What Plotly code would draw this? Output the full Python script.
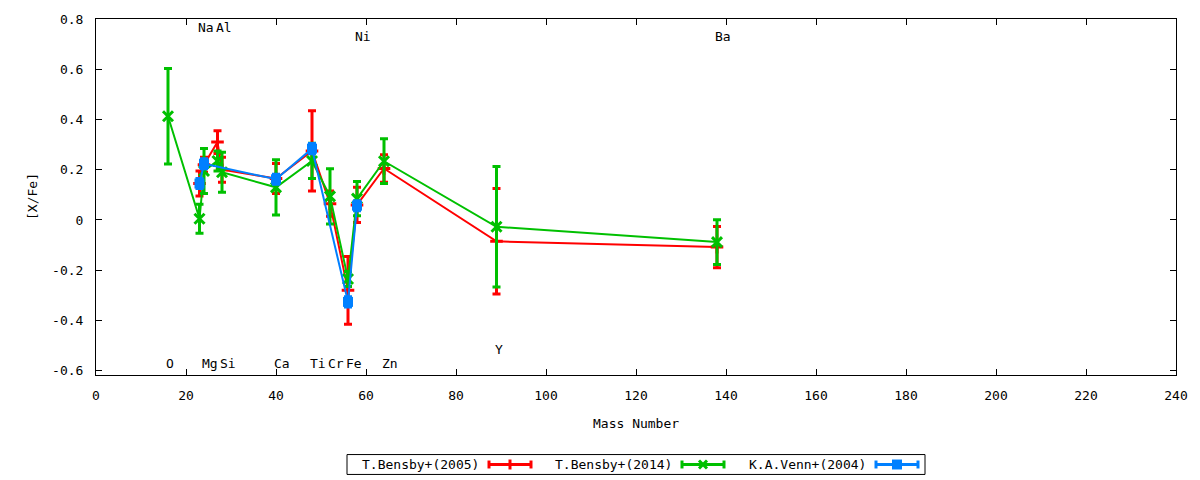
import plotly.graph_objects as go

# element labels and their mass numbers
elements = ["O", "Na", "Mg", "Al", "Si", "Ca", "Ti", "Cr", "Fe", "Ni", "Zn", "Y", "Ba"]
mass = [16, 23, 24, 27, 28, 40, 48, 52, 56, 58, 64, 89, 138]
label_y = [-0.57, 0.768, -0.57, 0.768, -0.57, -0.57, -0.57, -0.57, -0.57, 0.732, -0.57, -0.514, 0.732]

# T.Bensby+(2005)
b05_x = [23, 24, 27, 28, 40, 48, 52, 56, 58, 64, 89, 138]
b05_y = [0.145, 0.22, 0.31, 0.2, 0.165, 0.275, 0.065, -0.28, 0.06, 0.205, -0.085, -0.108]
b05_err = [0.05, 0.03, 0.045, 0.05, 0.06, 0.16, 0.05, 0.135, 0.07, 0.055, 0.21, 0.082]

# T.Bensby+(2014)
b14_x = [16, 23, 24, 27, 28, 40, 48, 52, 56, 58, 64, 89, 138]
b14_y = [0.413, 0.005, 0.195, 0.235, 0.19, 0.13, 0.235, 0.094, -0.235, 0.085, 0.234, -0.027, -0.088]
b14_err = [0.19, 0.058, 0.09, 0.04, 0.08, 0.11, 0.07, 0.11, 0.03, 0.068, 0.089, 0.24, 0.089]

# K.A.Venn+(2004)
v04_x = [23, 24, 40, 48, 56, 58]
v04_y = [0.145, 0.224, 0.162, 0.284, -0.326, 0.057]
v04_err = [0.02, 0.02, 0.02, 0.02, 0.02, 0.02]

yticks = [-0.6, -0.4, -0.2, 0, 0.2, 0.4, 0.6, 0.8]
yticktext = ["-0.6", "-0.4", "-0.2", "0", "0.2", "0.4", "0.6", "0.8"]
xticks = list(range(0, 241, 20))

names = ["T.Bensby+(2005)", "T.Bensby+(2014)", "K.A.Venn+(2004)"]
colors = ["#ff0000", "#00c000", "#0080ff"]

FONT = "DejaVu Sans Mono"
W, H = 1200, 480
L, R, T, B = 96, 24, 17, 105
PW, PH = W - L - R, H - T - B


def px(x):
    return (x - L) / PW


def py(y):
    return (H - B - y) / PH


fig = go.Figure()

series = [(b05_x, b05_y, b05_err), (b14_x, b14_y, b14_err), (v04_x, v04_y, v04_err)]
markers = [
    dict(symbol="cross-thin", size=9, line=dict(width=3, color=colors[0])),
    dict(symbol="x-thin", size=10, line=dict(width=3, color=colors[1])),
    dict(symbol="square", size=10, color=colors[2], line=dict(width=0)),
]
for (xs, ys, es), name, c, m in zip(series, names, colors, markers):
    fig.add_trace(go.Scatter(
        x=xs, y=ys, name=name, mode="lines+markers",
        line=dict(color=c, width=2),
        marker=m,
        error_y=dict(type="data", array=es, color=c, thickness=3, width=4),
        showlegend=False,
    ))

annotations = []
for el, m, ly in zip(elements, mass, label_y):
    annotations.append(dict(x=m, y=ly, xref="x", yref="y", text=el, showarrow=False,
                            xanchor="left", yanchor="middle", xshift=-4,
                            font=dict(family=FONT, size=13, color="black")))

annotations.append(dict(x=0.5, y=py(424), xref="paper", yref="paper", text="Mass Number",
                        showarrow=False, xanchor="center", yanchor="middle",
                        font=dict(family=FONT, size=13, color="black")))
annotations.append(dict(x=px(32), y=0.5, xref="paper", yref="paper", text="[X/Fe]",
                        showarrow=False, textangle=-90, xanchor="center", yanchor="middle",
                        font=dict(family=FONT, size=13, color="black")))

# gnuplot-style legend: text first, sample to the right
shapes = [dict(type="rect", xref="paper", yref="paper", x0=px(347), x1=px(925),
               y0=py(475), y1=py(455), line=dict(color="black", width=1))]
ly = 465
text_ends = [481, 674, 868]
for name, c, te, i in zip(names, colors, text_ends, range(3)):
    annotations.append(dict(x=px(te), y=py(ly), xref="paper", yref="paper", text=name,
                            showarrow=False, xanchor="right", yanchor="middle",
                            font=dict(family=FONT, size=13, color="black")))
    s0, s1 = te + 8, te + 50
    mid = (s0 + s1) / 2
    shapes.append(dict(type="line", xref="paper", yref="paper", x0=px(s0), x1=px(s1),
                       y0=py(ly), y1=py(ly), line=dict(color=c, width=3)))
    for sx in (s0, s1):
        shapes.append(dict(type="line", xref="paper", yref="paper", x0=px(sx), x1=px(sx),
                           y0=py(ly - 4), y1=py(ly + 4), line=dict(color=c, width=3)))
    if i == 0:
        shapes.append(dict(type="line", xref="paper", yref="paper", x0=px(mid), x1=px(mid),
                           y0=py(ly - 5), y1=py(ly + 5), line=dict(color=c, width=3)))
    elif i == 1:
        for a, b in ((-4, -4), (-4, 4)):
            shapes.append(dict(type="line", xref="paper", yref="paper", x0=px(mid + a),
                               x1=px(mid - a), y0=py(ly + b), y1=py(ly - b),
                               line=dict(color=c, width=3)))
    else:
        shapes.append(dict(type="rect", xref="paper", yref="paper", x0=px(mid - 5),
                           x1=px(mid + 5), y0=py(ly + 5), y1=py(ly - 5),
                           fillcolor=c, line=dict(width=0)))

axis_common = dict(showline=True, linecolor="black", linewidth=1, mirror="ticks",
                   ticks="inside", ticklen=6, tickcolor="black", showgrid=False,
                   zeroline=False, tickfont=dict(family=FONT, size=13, color="black"))

fig.update_layout(
    width=W, height=H,
    margin=dict(l=L, r=R, t=T, b=B),
    plot_bgcolor="white", paper_bgcolor="white",
    xaxis=dict(range=[0, 240], tickvals=xticks, ticklabelstandoff=8, **axis_common),
    yaxis=dict(range=[-0.617, 0.8], tickvals=yticks, ticktext=yticktext,
               ticklabelstandoff=9, **axis_common),
    annotations=annotations,
    shapes=shapes,
)

# the page body has a default 8px margin; drop it so the figure fills the window
fig.write_html("out.html", config={"displayModeBar": False},
               post_script="document.body.style.margin='0px';")
